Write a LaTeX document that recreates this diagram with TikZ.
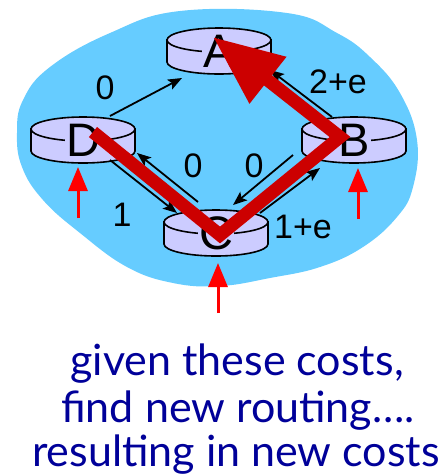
\documentclass[tikz,border=0pt]{standalone}
\usepackage{fontspec}
\setmainfont{Liberation Sans}
\newfontfamily\captionfont{Lato}
\usetikzlibrary{arrows.meta}

\definecolor{cloudblue}{HTML}{66CCFF}
\definecolor{diskfill}{HTML}{CCCCFF}
\definecolor{pathred}{HTML}{CC0000}
\definecolor{captionblue}{HTML}{000099}

\tikzset{
  disk/.style={draw=black, fill=diskfill, line width=1.6pt},
  routerlabel/.style={fill=diskfill, inner sep=1pt, font=\fontsize{47}{47}\selectfont},
  cost/.style={font=\fontsize{34}{34}\selectfont, inner sep=0pt},
  link/.style={line width=1.8pt, -{Stealth[length=14pt,width=11pt,inset=3pt]}},
  update/.style={red, line width=3pt, -{Triangle[length=24pt,width=19pt]}},
  newroute/.style={pathred, line width=13pt, line join=miter, -{Triangle[length=70pt,width=56pt]}},
  captionline/.style={captionblue, font=\captionfont\fontsize{43}{46}\selectfont, anchor=base, inner sep=0pt}
}

\begin{document}
\begin{tikzpicture}[x=1pt,y=1pt]
\useasboundingbox (0,0) rectangle (444,-475);
\fill[cloudblue] plot[smooth cycle, tension=0.7] coordinates {(180,-11) (287,-13) (337,-33) (370,-57) (400,-93) (417,-140) (413,-187) (397,-217) (363,-247) (320,-267) (270,-278) (220,-286) (173,-283) (127,-267) (80,-233) (43,-200) (22,-167) (17,-133) (23,-100) (50,-67) (110,-33)};
% routers
\foreach \n/\x/\y in {A/219/40, D/83/129, B/354/129, C/216/222} {
  \filldraw[disk] (\x-52,-\y) -- (\x-52,-\y-22) arc[start angle=180, end angle=360, x radius=52, y radius=12] -- (\x+52,-\y) -- cycle;
  \filldraw[disk] (\x,-\y) ellipse [x radius=52, y radius=12];
  \node[routerlabel] (\n) at (\x,-\y-11) {\n};
}
% link costs
\draw[link] ([shift={(27,24)}]D.center) -- ([shift={(-37,-27)}]A.center);
\draw[link] ([shift={(-22,23)}]B.center) -- ([shift={(51,-19)}]A.center);
\draw[link] ([shift={(27,-20)}]D.center) -- ([shift={(-39,20)}]C.center);
\draw[link] ([shift={(-18,31)}]C.center) -- ([shift={(54,-13)}]D.center);
\draw[link] ([shift={(-61,-15)}]B.center) -- ([shift={(17,28)}]C.center);
\draw[link] ([shift={(44,20)}]C.center) -- ([shift={(-34,-28)}]B.center);
\node[cost] (cDA) at (105,-88) {0};
\node[cost] (cBA) at (338,-82) {2+e};
\node[cost] (cDC) at (122,-215) {1};
\node[cost] (cCD) at (193,-166) {0};
\node[cost] (cBC) at (254,-166) {0};
\node[cost] (cCB) at (303,-227) {1+e};
\draw[update] ([shift={(-5,-78)}]D.center) -- ([shift={(-5,-27)}]D.center);
\draw[update] ([shift={(4,-79)}]B.center) -- ([shift={(4,-28)}]B.center);
\draw[update] ([shift={(2,-80)}]C.center) -- ([shift={(2,-30)}]C.center);
\draw[newroute] ([shift={(10,8)}]D.center) -- ([shift={(4,-2)}]C.center) -- ([shift={(-14,3)}]B.center) -- ([shift={(-6,14)}]A.center);
\node[captionline] (line1) at (237,-375) {given these costs,};
\node[captionline] (line2) at (238,-422) {find new routing….};
\node[captionline] (line3) at (236,-466) {resulting in new costs};
\end{tikzpicture}
\end{document}
